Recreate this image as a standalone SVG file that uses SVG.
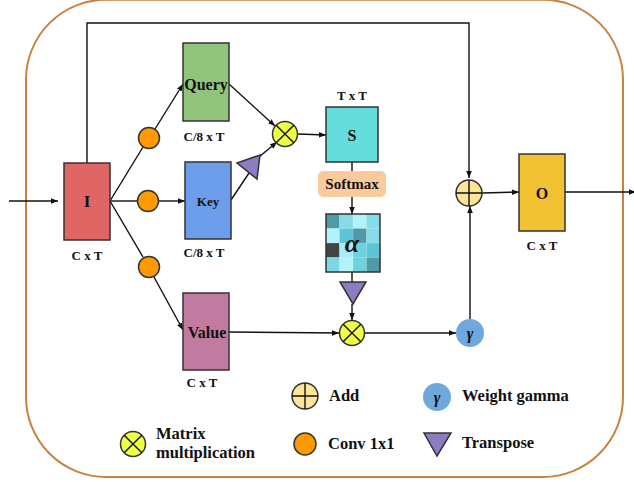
<svg xmlns="http://www.w3.org/2000/svg" width="634" height="482" viewBox="0 0 634 482">
<defs>
<style>
.box{stroke:#333;stroke-width:1.5}
.ln{stroke:#111;stroke-width:1.4;fill:none}
.t{font-family:"Liberation Serif",serif;font-weight:bold;fill:#111;text-anchor:middle;dominant-baseline:central}
.lab{font-size:13px}
.leg{font-size:16.5px;text-anchor:start}
.mm{fill:#eeff44;stroke:#333;stroke-width:1.5}
.conv{fill:#ff9900;stroke:#333;stroke-width:1.5}
.add{fill:#ffe599;stroke:#333;stroke-width:1.5}
.tri{fill:#8e7cc3;stroke:#333;stroke-width:1.5}
.gam{fill:#6fa8dc}
</style>
<marker id="ar" viewBox="0 0 10 10" refX="10" refY="5" markerWidth="7" markerHeight="7" orient="auto" markerUnits="userSpaceOnUse">
<path d="M0,1 L10,5 L0,9 z" fill="#111"/>
</marker>
</defs>
<rect x="26" y="-0.3" width="597" height="477.3" rx="80" ry="80" fill="#fff" stroke="#c8843f" stroke-width="2"/>

<g id="connectors">
<line class="ln" x1="9" y1="201" x2="58" y2="201" marker-end="url(#ar)"/>
<polyline class="ln" points="87,163 87,23 469,23 469,178" marker-end="url(#ar)"/>
<line class="ln" x1="110" y1="201" x2="143" y2="147"/>
<line class="ln" x1="155" y1="129" x2="183" y2="84" marker-end="url(#ar)"/>
<line class="ln" x1="110" y1="201" x2="138" y2="201"/>
<line class="ln" x1="159" y1="201" x2="185" y2="201" marker-end="url(#ar)"/>
<line class="ln" x1="110" y1="201" x2="143" y2="257"/>
<line class="ln" x1="154" y1="277" x2="183" y2="330" marker-end="url(#ar)"/>
<line class="ln" x1="229" y1="84" x2="275" y2="126" marker-end="url(#ar)"/>
<line class="ln" x1="231" y1="200" x2="249" y2="173"/>
<line class="ln" x1="259" y1="157" x2="277" y2="142" marker-end="url(#ar)"/>
<line class="ln" x1="298" y1="134" x2="326" y2="135" marker-end="url(#ar)"/>
<line class="ln" x1="352" y1="162" x2="352" y2="171"/>
<line class="ln" x1="352" y1="197" x2="352" y2="214" marker-end="url(#ar)"/>
<line class="ln" x1="352" y1="272" x2="352" y2="282"/>
<line class="ln" x1="352" y1="304" x2="352" y2="320" marker-end="url(#ar)"/>
<line class="ln" x1="229" y1="332" x2="339" y2="333" marker-end="url(#ar)"/>
<line class="ln" x1="365" y1="333" x2="456" y2="333" marker-end="url(#ar)"/>
<line class="ln" x1="470" y1="319" x2="470" y2="206" marker-end="url(#ar)"/>
<line class="ln" x1="482" y1="193" x2="519" y2="192" marker-end="url(#ar)"/>
<line class="ln" x1="565" y1="192" x2="636" y2="192" marker-end="url(#ar)"/>
</g>

<g id="I"><rect class="box" x="64" y="163" width="46" height="77" fill="#e06666"/><text class="t" x="87" y="201" font-size="17">I</text><text class="t lab" x="87" y="255">C x T</text></g>

<g id="convQ"><circle class="conv" cx="149" cy="138" r="10.5"/></g>
<g id="convK"><circle class="conv" cx="148" cy="201" r="10.5"/></g>
<g id="convV"><circle class="conv" cx="149" cy="267" r="10.5"/></g>

<g id="Query"><rect class="box" x="183" y="43" width="46" height="78" fill="#93c47d"/><text class="t" x="206" y="84" font-size="16">Query</text><text class="t lab" x="204" y="136">C/8 x T</text></g>
<g id="Key"><rect class="box" x="185" y="162" width="46" height="77" fill="#6d9eeb"/><text class="t" x="208" y="201" font-size="13">Key</text><text class="t lab" x="204" y="252">C/8 x T</text></g>
<g id="Value"><rect class="box" x="183" y="293" width="46" height="77" fill="#c27ba0"/><text class="t" x="207" y="332" font-size="16">Value</text><text class="t lab" x="202" y="382">C x T</text></g>

<g id="transposeK"><polygon class="tri" points="237,163 260,155 257,179"/></g>

<g id="matmul1"><circle class="mm" cx="285" cy="134" r="12.5"/><path class="ln" d="M276.2,125.2 L293.8,142.8 M293.8,125.2 L276.2,142.8"/></g>

<g id="S"><rect class="box" x="326" y="107" width="52" height="55" fill="#66dddd"/><text class="t" x="352" y="135" font-size="16">S</text><text class="t lab" x="352" y="95">T x T</text></g>

<g id="Softmax"><rect x="318" y="171" width="68" height="26" rx="5" fill="#f9cb9c"/><text class="t" x="352" y="184" font-size="15">Softmax</text></g>

<g id="alpha">
<rect x="326" y="214" width="54" height="58" fill="#8ddde9"/>
<rect x="326" y="214" width="13.5" height="14.5" fill="#4e9aa6"/>
<rect x="339.5" y="214" width="13.5" height="14.5" fill="#85dbe8"/>
<rect x="353" y="214" width="13.5" height="14.5" fill="#b4f2fa"/>
<rect x="366.5" y="214" width="13.5" height="14.5" fill="#85dbe8"/>
<rect x="326" y="228.5" width="13.5" height="14.5" fill="#b4f2fa"/>
<rect x="339.5" y="228.5" width="13.5" height="14.5" fill="#5cc5d6"/>
<rect x="353" y="228.5" width="13.5" height="14.5" fill="#4e9aa6"/>
<rect x="366.5" y="228.5" width="13.5" height="14.5" fill="#85dbe8"/>
<rect x="326" y="243" width="13.5" height="14.5" fill="#444"/>
<rect x="339.5" y="243" width="13.5" height="14.5" fill="#a8ecf6"/>
<rect x="353" y="243" width="13.5" height="14.5" fill="#6fd0de"/>
<rect x="366.5" y="243" width="13.5" height="14.5" fill="#5cc5d6"/>
<rect x="326" y="257.5" width="13.5" height="14.5" fill="#7dd6e4"/>
<rect x="339.5" y="257.5" width="13.5" height="14.5" fill="#b4f2fa"/>
<rect x="353" y="257.5" width="13.5" height="14.5" fill="#6fd0de"/>
<rect x="366.5" y="257.5" width="13.5" height="14.5" fill="#4e9aa6"/>
<path d="M339.5,214V272M353,214V272M366.5,214V272M326,228.5H380M326,243H380M326,257.5H380" stroke="#fff" stroke-opacity="0.25" stroke-width="0.8"/>
<rect x="326" y="214" width="54" height="58" fill="none" stroke="#333" stroke-width="1.5"/>
<text class="t" x="352" y="243" font-size="26" font-style="italic" font-weight="normal" fill="#222">α</text>
</g>

<g id="transposeA"><polygon class="tri" points="340,282 366,282 353,304"/></g>
<g id="matmul2"><circle class="mm" cx="352" cy="333" r="12.5"/><path class="ln" d="M343.2,324.2 L360.8,341.8 M360.8,324.2 L343.2,341.8"/></g>
<g id="gamma"><circle class="gam" cx="470" cy="333" r="14"/><text class="t" x="470" y="333" font-size="16" font-style="italic">γ</text></g>
<g id="add"><circle class="add" cx="469" cy="193" r="13"/><path class="ln" d="M456,193H482M469,180V206"/></g>
<g id="O"><rect class="box" x="519" y="154" width="46" height="77" fill="#f1c232"/><text class="t" x="542" y="193" font-size="16">O</text><text class="t lab" x="542" y="245">C x T</text></g>

<g id="legend">
<circle class="add" cx="305" cy="396" r="13"/><path class="ln" d="M292,396H318M305,383V409"/>
<text class="t leg" x="329" y="395">Add</text>
<circle class="gam" cx="437" cy="397" r="14"/><text class="t" x="437" y="397" font-size="16" font-style="italic">γ</text>
<text class="t leg" x="462" y="395">Weight gamma</text>
<circle class="mm" cx="133" cy="444" r="12.5"/><path class="ln" d="M124.2,435.2 L141.8,452.8 M141.8,435.2 L124.2,452.8"/>
<text class="t leg" x="156" y="433">Matrix</text>
<text class="t leg" x="156" y="452">multiplication</text>
<circle class="conv" cx="305" cy="444" r="11"/>
<text class="t leg" x="328" y="443">Conv 1x1</text>
<polygon class="tri" points="424,433 451,433 437,456"/>
<text class="t leg" x="462" y="442">Transpose</text>
</g>
</svg>
